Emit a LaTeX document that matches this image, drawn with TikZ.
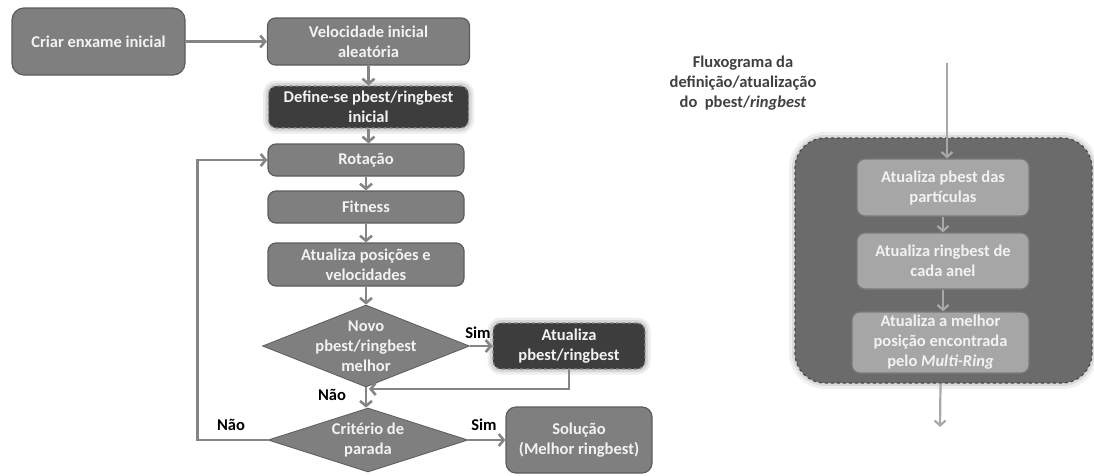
\documentclass[tikz,border=0pt]{standalone}
\usepackage{fontspec}
\setmainfont{Carlito}
\usetikzlibrary{arrows.meta,shapes.geometric}
\definecolor{boxfill}{HTML}{7F7F7F}
\definecolor{boxline}{HTML}{5C5C5C}
\definecolor{darkfill}{HTML}{3D3D3D}
\definecolor{darkline}{HTML}{8A8A8A}
\definecolor{arr}{HTML}{858585}
\definecolor{txtc}{HTML}{F2F2F2}
\definecolor{contfill}{HTML}{6B6B6B}
\definecolor{contline}{HTML}{4A4A4A}
\definecolor{innerfill}{HTML}{A6A6A6}
\definecolor{innerline}{HTML}{7A7A7A}
\definecolor{arrb}{HTML}{A8A8A8}
\definecolor{titc}{HTML}{404040}
\begin{document}
\begin{tikzpicture}[x=1pt,y=-1pt,
  font=\bfseries\fontsize{16.5}{20}\selectfont,
  box/.style={draw=boxline, line width=1.2pt, fill=boxfill, rounded corners=8pt,
    text=txtc, align=center, inner sep=0pt},
  darkbox/.style={box, fill=darkfill, draw=darkline, dashed,
    preaction={draw=black!7, line width=11pt, solid},
    preaction={draw=black!16, line width=6pt, solid}},
  dia/.style={diamond, draw=boxline, line width=0.8pt, fill=boxfill, inner sep=0pt},
  dtext/.style={text=txtc, align=center},
  lbl/.style={text=black},
  flow/.style={draw=arr, line width=2.6pt, -{Straight Barb[length=5pt,width=12pt]}},
  flowb/.style={draw=arrb, line width=2.2pt, -{Straight Barb[length=5pt,width=11pt]}},
  container/.style={draw=contline, dashed, line width=1.2pt, fill=contfill,
    rounded corners=30pt, inner sep=0pt,
    preaction={draw=black!6, line width=12pt, solid},
    preaction={draw=black!14, line width=6pt, solid}},
  inner/.style={draw=innerline, line width=1.2pt, fill=innerfill, rounded corners=8pt,
    text=txtc, align=center, inner sep=0pt},
  title/.style={text=titc, align=center}
]
\useasboundingbox (0,0) rectangle (1094,475);

% left flowchart
\node[box, rounded corners=12pt, minimum width=173pt, minimum height=67pt] (criar) at (98.5,41.5) {Criar enxame inicial};
\node[box, minimum width=202pt, minimum height=47pt] (vel) at (368.5,41.5) {Velocidade inicial\\aleatória};
\node[darkbox, minimum width=200pt, minimum height=42pt] (def) at (368.5,107) {Define-se pbest/ringbest\\inicial};
\node[box, minimum width=196pt, minimum height=32pt] (rot) at (366,160) {Rotação};
\node[box, minimum width=196pt, minimum height=32pt] (fit) at (366,207) {Fitness};
\node[box, minimum width=196pt, minimum height=43pt] (atu) at (366,264.5) {Atualiza posições e\\velocidades};
\node[dia, minimum width=207pt, minimum height=82pt] (nov) at (366,346) {};
\node[dtext] (novt) at (nov) {Novo\\pbest/ringbest\\melhor};
\node[darkbox, minimum width=152pt, minimum height=46pt] (atpb) at (569,346) {Atualiza\\pbest/ringbest};
\node[dia, minimum width=200pt, minimum height=64pt] (crit) at (368,440) {};
\node[dtext] (critt) at (crit) {Critério de\\parada};
\node[box, rounded corners=10pt, minimum width=146pt, minimum height=66pt] (sol) at (579,440) {Solução\\(Melhor ringbest)};

\draw[flow] (criar) -- (vel);
\draw[flow] (vel) -- (def);
\draw[flow] (def.south) -- (def.south |- rot.north);
\draw[flow] (rot) -- (fit);
\draw[flow] (fit) -- (atu);
\draw[flow] (atu) -- (nov);
\draw[flow] (nov.east) -- (atpb.west);
\coordinate (jn) at (369,389);
\draw[flow] (atpb.south) |- (jn);
\draw[flow] (nov.south) -- (nov.south |- crit.north);
\draw[flow] (crit.east) -- (sol.west);
\draw[flow] (crit.west) -- ++(-70,0) |- (rot.west);

\node[lbl] (sim1) at (478,333) {Sim};
\node[lbl] (nao1) at (332,395) {Não};
\node[lbl] (nao2) at (231,425) {Não};
\node[lbl] (sim2) at (484,425) {Sim};

% right flowchart
\node[title] (tit) at (743,83) {Fluxograma da\\definição/atualização\\do\ \ pbest/\textit{ringbest}};
\node[container, minimum width=297pt, minimum height=245pt] (cont) at (943.5,260.5) {};
\node[inner, minimum width=172pt, minimum height=57pt] (b1) at (943,187.5) {Atualiza pbest das\\partículas};
\node[inner, minimum width=172pt, minimum height=56pt] (b2) at (943,261) {Atualiza ringbest de\\cada anel};
\node[inner, minimum width=177pt, minimum height=61pt] (b3) at (940.5,342.5) {Atualiza a melhor\\posição encontrada\\pelo \textit{Multi-Ring}};
\coordinate (tin) at (947,63);
\coordinate (tout) at (940,427);
\draw[flowb] (tin) -- (tin |- b1.north);
\draw[flowb] (b1) -- (b2);
\draw[flowb] (b2.south) -- (b2.south |- b3.north);
\draw[flowb] (b3.south |- cont.south) -- (tout);
\end{tikzpicture}
\end{document}
